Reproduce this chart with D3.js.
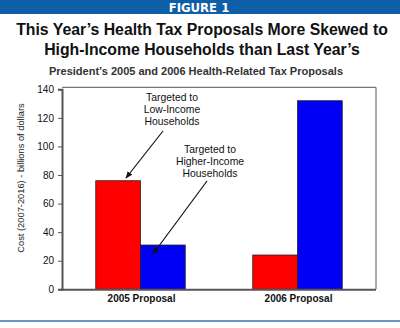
<!DOCTYPE html>
<html>
<head>
<meta charset="utf-8">
<script src="https://cdn.jsdelivr.net/npm/d3@7"></script>
<style>
  html, body { margin: 0; padding: 0; background: #fff; }
  svg { display: block; font-family: Arial, "Liberation Sans", sans-serif; }
</style>
</head>
<body>
<svg id="chart" width="400" height="328"></svg>
<script>
// Health-related tax proposals, cost 2007-2016 in billions
const proposals = ['2005 Proposal', '2006 Proposal'];
const groups = ['low', 'high'];
const lowIncome = [76, 24];
const higherIncome = [31, 132];
const yTicks = [0, 20, 40, 60, 80, 100, 120, 140];

const colors = { low: '#fe0000', high: '#0000f6' };

const svg = d3.select('#chart');
const W = 400;

// banner
svg.append('rect').attr('x', 0).attr('y', 0).attr('width', W).attr('height', 14).attr('fill', '#0f5ea8');
svg.append('text').attr('x', 199).attr('y', 12).attr('text-anchor', 'middle')
  .attr('fill', '#fff').attr('font-size', 13).attr('font-weight', 'bold')
  .attr('font-family', '"DejaVu Sans Condensed", "Liberation Sans Narrow", Arial, sans-serif')
  .text('FIGURE 1');

// titles
const title = ['This Year\u2019s Health Tax Proposals More Skewed to', 'High-Income Households than Last Year\u2019s'];
title.forEach((t, i) => {
  svg.append('text').attr('x', 202).attr('y', 35 + i * 20).attr('text-anchor', 'middle')
    .attr('font-size', 15.8).attr('font-weight', 'bold').attr('fill', '#111').text(t);
});
svg.append('text').attr('x', 196).attr('y', 75).attr('text-anchor', 'middle')
  .attr('font-size', 11).attr('font-weight', 'bold').attr('fill', '#333')
  .text('President\u2019s 2005 and 2006 Health-Related Tax Proposals');

// plot area
const m = { left: 62, right: 376, top: 89.3, bottom: 289.3 };

const x0 = d3.scaleBand().domain(proposals).range([m.left, m.right])
  .paddingInner(0.43).paddingOuter(0.215);
const x1 = d3.scaleBand().domain(groups).range([0, x0.bandwidth()]);
const y = d3.scaleLinear().domain([0, 140]).range([m.bottom, m.top]);

// frame (top/right light)
svg.append('path')
  .attr('d', `M${m.left},${m.top - 2}H${m.right}V${m.bottom}`)
  .attr('fill', 'none').attr('stroke', '#555').attr('stroke-width', 1);

const data = proposals.map((p, i) => ({ p, vals: [
  { k: 'low', v: lowIncome[i] }, { k: 'high', v: higherIncome[i] }] }));

svg.append('g').selectAll('g').data(data).join('g')
  .attr('transform', d => `translate(${x0(d.p)},0)`)
  .selectAll('rect').data(d => d.vals).join('rect')
  .attr('x', d => x1(d.k))
  .attr('y', d => y(d.v))
  .attr('width', x1.bandwidth())
  .attr('height', d => y(0) - y(d.v))
  .attr('fill', d => colors[d.k])
  .attr('stroke', '#222').attr('stroke-width', 0.8);

// y axis
const yAxis = svg.append('g').attr('transform', `translate(${m.left},0)`)
  .call(d3.axisLeft(y).tickValues(yTicks).tickSize(4).tickPadding(4));
yAxis.select('.domain').attr('stroke', '#555').attr('stroke-width', 2);
yAxis.selectAll('.tick line').attr('stroke', '#555');
yAxis.selectAll('.tick text').attr('font-size', 10).attr('fill', '#111')
  .attr('font-family', 'Arial, "Liberation Sans", sans-serif');

// x baseline
svg.append('line').attr('x1', m.left - 1).attr('x2', m.right)
  .attr('y1', m.bottom + 0.5).attr('y2', m.bottom + 0.5)
  .attr('stroke', '#555').attr('stroke-width', 2);

// category labels
svg.append('g').selectAll('text').data(proposals).join('text')
  .attr('x', d => x0(d) + x0.bandwidth() / 2 + 1)
  .attr('y', 302)
  .attr('text-anchor', 'middle').attr('font-size', 10).attr('font-weight', 'bold').attr('fill', '#111')
  .text(d => d);

// y title
svg.append('text')
  .attr('transform', `translate(24,178) rotate(-90)`)
  .attr('text-anchor', 'middle').attr('font-size', 9.3).attr('fill', '#222')
  .text('Cost (2007-2016) - billions of dollars');

// annotations with arrows
svg.append('defs').append('marker')
  .attr('id', 'arrow').attr('viewBox', '0 0 10 10').attr('refX', 9).attr('refY', 5)
  .attr('markerWidth', 6).attr('markerHeight', 6).attr('orient', 'auto')
  .append('path').attr('d', 'M0,1L10,5L0,9z').attr('fill', '#111');

const notes = [
  { lines: ['Targeted to', 'Low-Income', 'Households'], cx: 172, y0: 101, from: [163, 131], to: [126, 178] },
  { lines: ['Targeted to', 'Higher-Income', 'Households'], cx: 210, y0: 153, from: [207, 181], to: [153, 254] }
];
notes.forEach(n => {
  const t = svg.append('text').attr('text-anchor', 'middle').attr('font-size', 10.4).attr('fill', '#111');
  n.lines.forEach((l, i) => t.append('tspan').attr('x', n.cx).attr('y', n.y0 + i * 12).text(l));
  svg.append('line').attr('x1', n.from[0]).attr('y1', n.from[1]).attr('x2', n.to[0]).attr('y2', n.to[1])
    .attr('stroke', '#111').attr('stroke-width', 1.2).attr('marker-end', 'url(#arrow)');
});

// bottom rule
svg.append('line').attr('x1', 0).attr('x2', W).attr('y1', 321).attr('y2', 321)
  .attr('stroke', '#3b72b0').attr('stroke-width', 1.5);
</script>
</body>
</html>
